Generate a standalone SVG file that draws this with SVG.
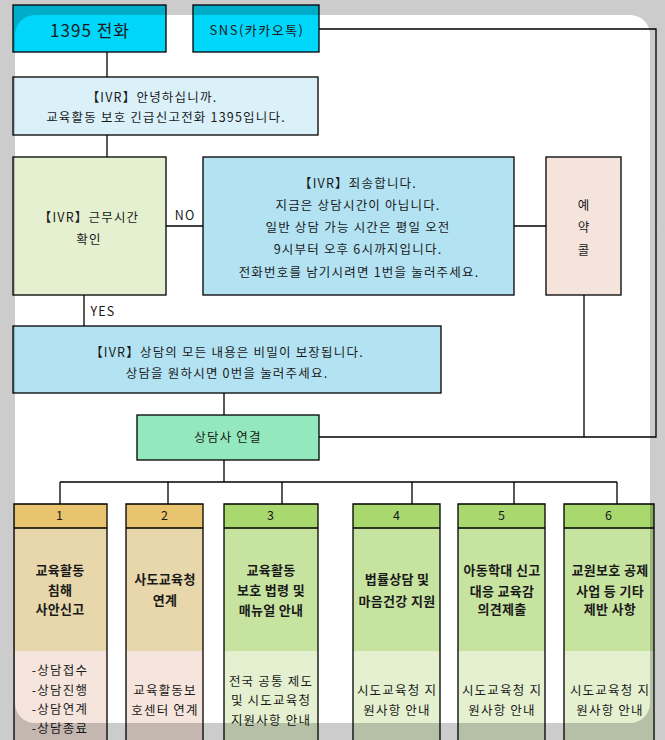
<svg xmlns="http://www.w3.org/2000/svg" width="665" height="740" viewBox="0 0 665 740">
<defs>
<style>
.b{stroke:#000;stroke-width:1.3}
.t{font-family:"Noto Sans CJK KR","Malgun Gothic",sans-serif;font-size:12.5px;fill:#1a1a1a;text-anchor:middle;letter-spacing:1.2px}
.bd{font-weight:bold;font-size:13px;letter-spacing:0.3px}
.ln{fill:none;stroke:#000;stroke-width:1.3}
.cyan{fill:#00d7fa}
.blue{fill:#b3e3f3}
.hy{fill:#e8c46e}.uy{fill:#e8d7ab}.ly{fill:#f5e5dd}
.hg{fill:#a9d86e}.ug{fill:#c7e3a0}.lg{fill:#e4f0d0}
</style>
</defs>
<rect x="0" y="0" width="665" height="740" fill="#fff"/>

<g id="connectors">
<path class="ln" d="M107 52V77M107 135V157M84 295V326M166 226H203M514 226H546M584 295V437M319 437H656V29H319M224 393V415M224 460V482M60 482H617M60 482V504M168 482V504M282 482V504M412 482V504M514 482V504M617 482V504"/>
</g>

<g id="n1395">
<rect class="b cyan" x="13" y="5" width="153" height="47"/>
<text class="t" x="90" y="37" style="font-size:17px;letter-spacing:1px">1395 전화</text>
</g>
<g id="sns">
<rect class="b cyan" x="193" y="5" width="126" height="47"/>
<text class="t" x="257" y="35" style="font-size:13px;letter-spacing:1.5px">SNS(카카오톡)</text>
</g>
<g id="ivr1">
<rect class="b" fill="#daf1fa" x="13" y="77" width="305" height="58"/>
<text class="t" x="152" y="102">【IVR】안녕하십니까.</text>
<text class="t" x="166" y="122">교육활동 보호 긴급신고전화 1395입니다.</text>
</g>
<g id="worktime">
<rect class="b" fill="#e4f0d0" x="13" y="157" width="153" height="138"/>
<text class="t" x="89" y="222">【IVR】근무시간</text>
<text class="t" x="89" y="244">확인</text>
</g>
<text class="t" x="185" y="220">NO</text>
<text class="t" x="103" y="316">YES</text>
<g id="ivr2">
<rect class="b blue" x="203" y="157" width="311" height="138"/>
<text class="t" x="358" y="188">【IVR】죄송합니다.</text>
<text class="t" x="358" y="210">지금은 상담시간이 아닙니다.</text>
<text class="t" x="358" y="232">일반 상담 가능 시간은 평일 오전</text>
<text class="t" x="358" y="254">9시부터 오후 6시까지입니다.</text>
<text class="t" x="359" y="277">전화번호를 남기시려면 1번을 눌러주세요.</text>
</g>
<g id="reserve">
<rect class="b" fill="#f5e4dc" x="546" y="157" width="75" height="138"/>
<text class="t" x="584" y="210">예</text>
<text class="t" x="584" y="232">약</text>
<text class="t" x="584" y="255">콜</text>
</g>
<g id="ivr3">
<rect class="b blue" x="13" y="326" width="428" height="67"/>
<text class="t" x="227" y="357">【IVR】상담의 모든 내용은 비밀이 보장됩니다.</text>
<text class="t" x="227" y="378">상담을 원하시면 0번을 눌러주세요.</text>
</g>
<g id="counselor">
<rect class="b" fill="#93e9bd" x="137" y="415" width="182" height="45"/>
<text class="t" x="228" y="442">상담사 연결</text>
</g>

<g id="col1">
<rect class="uy" x="14" y="528" width="93" height="123"/>
<rect class="ly" x="14" y="651" width="93" height="95"/>
<rect class="hy" x="14" y="504" width="93" height="24"/>
<path class="ln" d="M14 745V504H107V745M14 528H107"/>
<text class="t" x="60" y="520">1</text>
<text class="t bd" x="60" y="575">교육활동</text>
<text class="t bd" x="60" y="595">침해</text>
<text class="t bd" x="60" y="614">사안신고</text>
<text class="t" x="60" y="675">-상담접수</text>
<text class="t" x="60" y="695">-상담진행</text>
<text class="t" x="60" y="714">-상담연계</text>
<text class="t" x="60" y="733">-상담종료</text>
</g>
<g id="col2">
<rect class="uy" x="126" y="528" width="77" height="123"/>
<rect class="ly" x="126" y="651" width="77" height="95"/>
<rect class="hy" x="126" y="504" width="77" height="24"/>
<path class="ln" d="M126 745V504H203V745M126 528H203"/>
<text class="t" x="165" y="520">2</text>
<text class="t bd" x="165" y="584">사도교육청</text>
<text class="t bd" x="165" y="605">연계</text>
<text class="t" x="165" y="695">교육활동보</text>
<text class="t" x="165" y="715">호센터 연계</text>
</g>
<g id="col3">
<rect class="ug" x="224" y="528" width="94" height="123"/>
<rect class="lg" x="224" y="651" width="94" height="95"/>
<rect class="hg" x="224" y="504" width="94" height="24"/>
<path class="ln" d="M224 745V504H318V745M224 528H318"/>
<text class="t" x="271" y="520">3</text>
<text class="t bd" x="271" y="575">교육활동</text>
<text class="t bd" x="271" y="595">보호 법령 및</text>
<text class="t bd" x="271" y="615">매뉴얼 안내</text>
<text class="t" x="271" y="686">전국 공통 제도</text>
<text class="t" x="271" y="705">및 시도교육청</text>
<text class="t" x="271" y="725">지원사항 안내</text>
</g>
<g id="col4">
<rect class="ug" x="353" y="528" width="87" height="123"/>
<rect class="lg" x="353" y="651" width="87" height="95"/>
<rect class="hg" x="353" y="504" width="87" height="24"/>
<path class="ln" d="M353 745V504H440V745M353 528H440"/>
<text class="t" x="397" y="520">4</text>
<text class="t bd" x="397" y="584">법률상담 및</text>
<text class="t bd" x="397" y="606">마음건강 지원</text>
<text class="t" x="397" y="695">시도교육청 지</text>
<text class="t" x="397" y="715">원사항 안내</text>
</g>
<g id="col5">
<rect class="ug" x="458" y="528" width="87" height="123"/>
<rect class="lg" x="458" y="651" width="87" height="95"/>
<rect class="hg" x="458" y="504" width="87" height="24"/>
<path class="ln" d="M458 745V504H545V745M458 528H545"/>
<text class="t" x="502" y="520">5</text>
<text class="t bd" x="502" y="575">아동학대 신고</text>
<text class="t bd" x="502" y="596">대응 교육감</text>
<text class="t bd" x="502" y="614">의견제출</text>
<text class="t" x="502" y="695">시도교육청 지</text>
<text class="t" x="502" y="715">원사항 안내</text>
</g>
<g id="col6">
<rect class="ug" x="564" y="528" width="90" height="123"/>
<rect class="lg" x="564" y="651" width="90" height="95"/>
<rect class="hg" x="564" y="504" width="90" height="24"/>
<path class="ln" d="M564 745V504H654V745M564 528H654"/>
<text class="t" x="609" y="520">6</text>
<text class="t bd" x="610" y="575">교원보호 공제</text>
<text class="t bd" x="610" y="596">사업 등 기타</text>
<text class="t bd" x="610" y="614">제반 사항</text>
<text class="t" x="610" y="695">시도교육청 지</text>
<text class="t" x="610" y="715">원사항 안내</text>
</g>

<path fill="#000" fill-opacity="0.2" fill-rule="evenodd" d="M0 0H665V740H0Z M35 15H630A20 20 0 0 1 650 35V703A20 20 0 0 1 630 723H35A20 20 0 0 1 15 703V35A20 20 0 0 1 35 15Z"/>
</svg>
